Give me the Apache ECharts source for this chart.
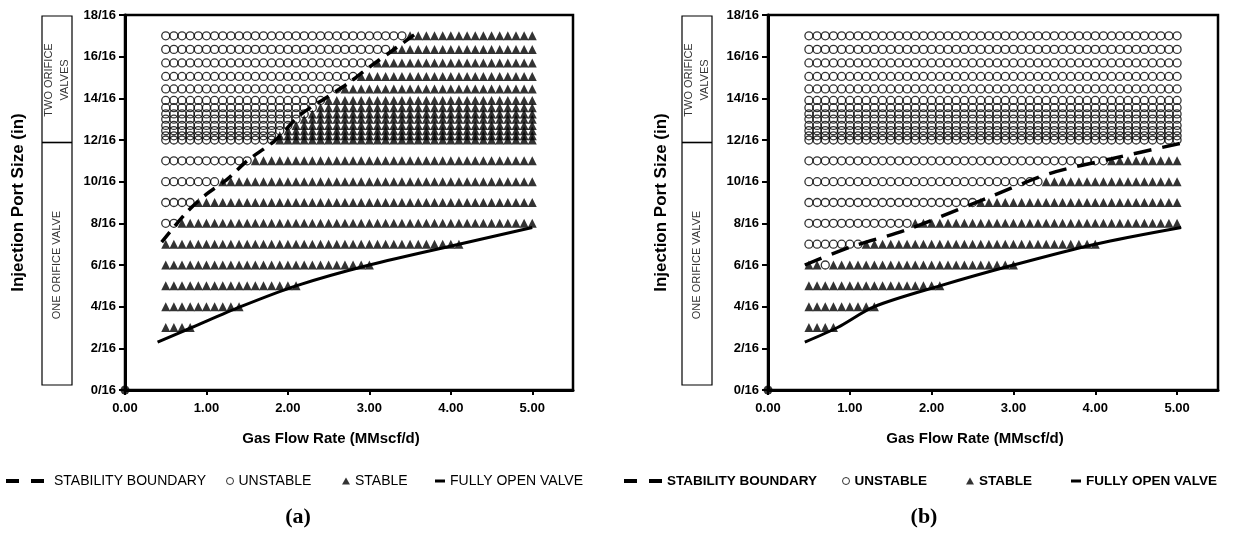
<!DOCTYPE html>
<html><head><meta charset="utf-8">
<script src="https://cdn.jsdelivr.net/npm/echarts@6/dist/echarts.min.js"></script>
<style>html,body{margin:0;padding:0;background:#fff}#c{width:1242px;height:533px}</style>
</head><body><div id="c"></div>
<script>
// ---------- data ----------
const xValues = [0.5,0.6,0.7,0.8,0.9,1.0,1.1,1.2,1.3,1.4,1.5,1.6,1.7,1.8,1.9,2.0,2.1,2.2,2.3,2.4,2.5,2.6,2.7,2.8,2.9,3.0,3.1,3.2,3.3,3.4,3.5,3.6,3.7,3.8,3.9,4.0,4.1,4.2,4.3,4.4,4.5,4.6,4.7,4.8,4.9,5.0];
const xTickValues = [0,1,2,3,4,5];
const yTickValues = [0,2,4,6,8,10,12,14,16,18];
// rows: [port size (x/16 in), first gas rate, last gas rate]
const unstableRowsA = [[8,0.5,0.6],[9,0.5,0.8],[10,0.5,1.1],[11,0.5,1.5],[12,0.5,1.8],[12.2,0.5,1.8],[12.45,0.5,1.9],[12.7,0.5,2.0],[13,0.5,2.1],[13.25,0.5,2.2],[13.55,0.5,2.3],[13.9,0.5,2.4],[14.45,0.5,2.6],[15.05,0.5,2.8],[15.7,0.5,3.0],[16.35,0.5,3.2],[17,0.5,3.4]];
const stableRowsA = [[3,0.5,0.8],[4,0.5,1.4],[5,0.5,2.1],[6,0.5,3.0],[7,0.5,4.1],[8,0.7,5],[9,0.9,5],[10,1.2,5],[11,1.6,5],[12,1.9,5],[12.2,1.9,5],[12.45,2.0,5],[12.7,2.1,5],[13,2.2,5],[13.25,2.3,5],[13.55,2.4,5],[13.9,2.5,5],[14.45,2.7,5],[15.05,2.9,5],[15.7,3.1,5],[16.35,3.3,5],[17,3.5,5]];
const boundaryA = [[0.45,7.1],[0.75,8.5],[1.0,9.4],[1.25,10.1],[1.5,11.0],[1.85,12.0],[2.15,13.2],[2.5,14.1],[2.75,14.75],[3.0,15.5],[3.25,16.2],[3.55,17.05]];
const fullyOpenA = [[0.4,2.3],[0.82,3.0],[1.42,4.0],[2.1,5.0],[3.0,6.0],[4.1,7.0],[5.0,7.8]];

const unstableRowsB = [[6,0.7,0.7],[7,0.5,1.1],[8,0.5,1.7],[9,0.5,2.5],[10,0.5,3.3],[11,0.5,4.1],[12,0.5,5],[12.2,0.5,5],[12.45,0.5,5],[12.7,0.5,5],[13,0.5,5],[13.25,0.5,5],[13.55,0.5,5],[13.9,0.5,5],[14.45,0.5,5],[15.05,0.5,5],[15.7,0.5,5],[16.35,0.5,5],[17,0.5,5]];
const stableRowsB = [[3,0.5,0.8],[4,0.5,1.3],[5,0.5,2.1],[6,0.5,0.6],[6,0.8,3.0],[7,1.2,4.0],[8,1.8,5],[9,2.6,5],[10,3.4,5],[11,4.2,5]];
const boundaryB = [[0.45,6.0],[1.0,6.85],[1.7,7.7],[2.7,9.25],[3.45,10.4],[4.2,11.1],[5.05,11.85]];
const fullyOpenB = [[0.45,2.3],[0.85,3.0],[1.3,4.0],[2.1,5.0],[3.0,6.0],[4.0,7.0],[5.05,7.8]];

const originPoint = [[0,0]];

// ---------- build ----------
function expand(rows){
  const out=[];
  rows.forEach(([y,a,b])=>{ xValues.forEach(x=>{ if(x>=a-1e-6 && x<=b+1e-6) out.push([x,y]); }); });
  return out;
}
const FONT = '"Liberation Sans", Arial, sans-serif';

function xAx(i){
  return {gridIndex:i, type:'value', min:0, max:5.5, interval:1,
    axisLine:{show:true,onZero:false,lineStyle:{color:'#000',width:3}},
    axisTick:{show:true,length:5,customValues:xTickValues,lineStyle:{color:'#000',width:2}},
    axisLabel:{show:true,margin:12,color:'#000',fontWeight:'bold',fontSize:13,fontFamily:FONT,
      customValues:xTickValues, formatter:v=>Number(v).toFixed(2)},
    splitLine:{show:false},
    name:'Gas Flow Rate (MMscf/d)', nameLocation:'middle', nameGap:41,
    nameTextStyle:{fontSize:15,fontWeight:'bold',color:'#000',fontFamily:FONT,padding:[0,36,0,0]}
  };
}
function yAx(i){
  return {gridIndex:i, type:'value', min:0, max:18, interval:2,
    axisLine:{show:true,onZero:false,lineStyle:{color:'#000',width:3}},
    axisTick:{show:true,length:6,customValues:yTickValues,lineStyle:{color:'#000',width:2}},
    axisLabel:{show:true,margin:9,color:'#000',fontWeight:'bold',fontSize:13,fontFamily:FONT,
      customValues:yTickValues, formatter:v=>v+'/16'},
    splitLine:{show:false},
    name:'Injection Port Size (in)', nameLocation:'middle', nameGap:98,
    nameTextStyle:{fontSize:17,fontWeight:'bold',color:'#000',fontFamily:FONT}
  };
}
function panelSeries(i, unst, stab, bnd, open, dash){
  return [
    {name:'UNSTABLE', type:'scatter', xAxisIndex:i, yAxisIndex:i, symbol:'circle', symbolSize:8,
     itemStyle:{color:'rgba(0,0,0,0)',borderColor:'#000',borderWidth:1.3}, data:expand(unst), z:2, silent:true},
    {name:'STABLE', type:'scatter', xAxisIndex:i, yAxisIndex:i, symbol:'triangle', symbolSize:[9,9],
     itemStyle:{color:'#000'}, data:expand(stab), z:3, silent:true},
    {name:'STABILITY BOUNDARY', type:'line', xAxisIndex:i, yAxisIndex:i, data:bnd, symbol:'none', smooth:0.3,
     color:'#000', lineStyle:{color:'#000',width:3.5,type:dash}, z:5, silent:true},
    {name:'FULLY OPEN VALVE', type:'line', xAxisIndex:i, yAxisIndex:i, data:open, symbol:'none', smooth:0.3,
     color:'#000', lineStyle:{color:'#000',width:3}, z:5, silent:true},
    {name:'origin', type:'scatter', xAxisIndex:i, yAxisIndex:i, data:originPoint, symbol:'circle', symbolSize:9,
     itemStyle:{color:'#000'}, z:6, silent:true}
  ];
}
function leg(name, left, icon, w, h, style, bold, padLeft){
  return {show:true, left:left, top:474, padding:0, itemWidth:w, itemHeight:h, selectedMode:false,
    data:[{name:name, icon:icon, itemStyle:style}],
    textStyle:{color:'#000', fontSize: bold?13.5:14, fontWeight: bold?'bold':'normal', fontFamily:FONT, padding:[0,0,0,padLeft||0]}};
}
const dashIcon = 'path://M0,0h13v4h-13z M25,0h13v4h-13z';
const blk = {color:'#000', borderWidth:0};
const hollow = {color:'rgba(0,0,0,0)', borderColor:'#000', borderWidth:1};

function boxGraphics(dx){
  return [
    {type:'rect', shape:{x:42+dx,y:16,width:30,height:369}, style:{fill:'none',stroke:'#000',lineWidth:1.2}},
    {type:'line', shape:{x1:42+dx,y1:142.5,x2:72+dx,y2:142.5}, style:{stroke:'#000',lineWidth:1.6}},
    {type:'text', x:57+dx, y:80, rotation:Math.PI/2,
     style:{text:'TWO ORIFICE\nVALVES', font:'11px '+FONT, fill:'#333', align:'center', verticalAlign:'middle', textAlign:'center', textVerticalAlign:'middle', lineHeight:16}},
    {type:'text', x:57+dx, y:265, rotation:Math.PI/2,
     style:{text:'ONE ORIFICE VALVE', font:'11px '+FONT, fill:'#333', align:'center', verticalAlign:'middle', textAlign:'center', textVerticalAlign:'middle'}}
  ];
}

const option = {
  animation:false,
  backgroundColor:'#fff',
  grid:[
    {left:125, right:669, top:15, bottom:143, show:true, borderColor:'#000', borderWidth:2.5, backgroundColor:'#fff', containLabel:false, outerBoundsMode:'none'},
    {left:768, right:24, top:15, bottom:143, show:true, borderColor:'#000', borderWidth:2.5, backgroundColor:'#fff', containLabel:false, outerBoundsMode:'none'}
  ],
  xAxis:[xAx(0), xAx(1)],
  yAxis:[yAx(0), yAx(1)],
  legend:[
    leg('STABILITY BOUNDARY', 6, dashIcon, 38, 4, blk, false, 5),
    leg('UNSTABLE', 226, 'circle', 7, 7, hollow, false),
    leg('STABLE', 342, 'triangle', 8, 7, blk, false),
    leg('FULLY OPEN VALVE', 435, 'rect', 10, 3, blk, false),
    leg('STABILITY BOUNDARY', 624, dashIcon, 38, 4, blk, true),
    leg('UNSTABLE', 842, 'circle', 7, 7, hollow, true),
    leg('STABLE', 966, 'triangle', 8, 7, blk, true),
    leg('FULLY OPEN VALVE', 1071, 'rect', 10, 3, blk, true)
  ],
  graphic:[].concat(boxGraphics(0), boxGraphics(640), [
    {type:'text', x:298, y:517, style:{text:'(a)', font:'bold 22px "Liberation Serif", serif', fill:'#000', align:'center', verticalAlign:'middle', textAlign:'center', textVerticalAlign:'middle'}},
    {type:'text', x:924, y:517, style:{text:'(b)', font:'bold 22px "Liberation Serif", serif', fill:'#000', align:'center', verticalAlign:'middle', textAlign:'center', textVerticalAlign:'middle'}}
  ]),
  series:[].concat(
    panelSeries(0, unstableRowsA, stableRowsA, boundaryA, fullyOpenA, [13,8]),
    panelSeries(1, unstableRowsB, stableRowsB, boundaryB, fullyOpenB, [18,11])
  )
};
const chart = echarts.init(document.getElementById('c'), null, {renderer:'canvas'});
chart.setOption(option);
</script></body></html>
